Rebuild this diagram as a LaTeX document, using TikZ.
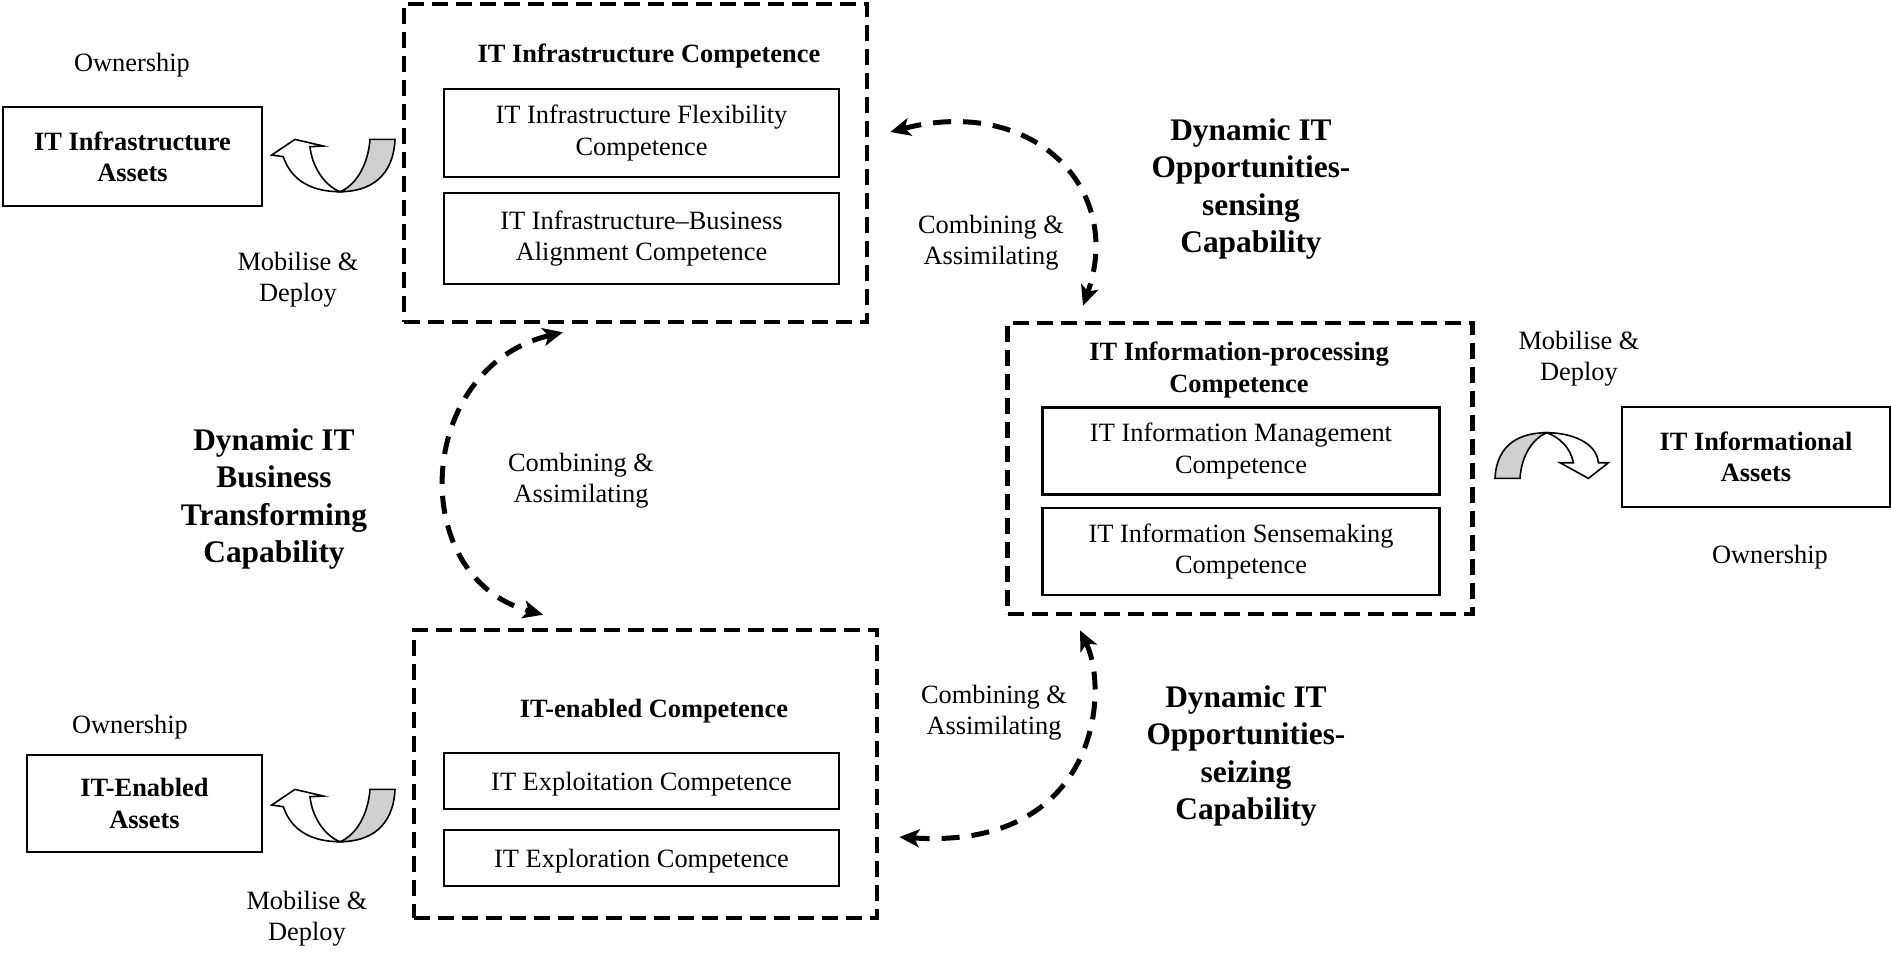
\documentclass[tikz,border=0pt]{standalone}
\usepackage{fontspec}
\setmainfont{Liberation Serif}
\usepackage{tikz}
\usetikzlibrary{arrows.meta}
\definecolor{ink}{HTML}{000000}
\definecolor{band}{HTML}{D0D0D0}
\newcommand\txtsize{\fontsize{13.2}{15.6}\selectfont}
\newcommand\bigsize{\fontsize{15.7}{18.7}\selectfont}
\tikzset{
  group/.style={draw=ink, line width=2.3pt, dash pattern=on 8pt off 4pt, inner sep=0pt},
  comp/.style={draw=ink, line width=1.3pt, align=center, inner sep=0pt, font=\txtsize,
    execute at begin node={\rule{0pt}{12pt}}},
  asset/.style={draw=ink, line width=1.4pt, align=center, inner sep=0pt, font=\txtsize\bfseries},
  ttl/.style={align=center, font=\txtsize\bfseries},
  lab/.style={align=center, font=\txtsize},
  capab/.style={align=center, font=\bigsize\bfseries},
  link/.style={draw=ink, line width=2.5pt, dash pattern=on 9pt off 6pt,
    {Stealth[length=10pt,width=9pt,inset=2.5pt]}-{Stealth[length=10pt,width=9pt,inset=2.5pt]}},
  % twisted u-turn arrow, head on the left
  uturn/.pic={
    \filldraw[fill=band, line width=0.8pt] (30,-52.3) -- (55,-52.3)
      .. controls (53.3,-15) and (30,0) .. (0,0)
      .. controls (16.7,-6.7) and (28.3,-28.3) .. (30,-52.3) -- cycle;
    \filldraw[fill=white, line width=0.8pt] (0,0)
      .. controls (-16.7,-6.7) and (-28.3,-26.7) .. (-30,-45)
      -- (-16.7,-45.7) -- (-45,-52.3) -- (-68.3,-36.7) -- (-56.7,-35)
      .. controls (-48.3,-10) and (-26.7,0) .. (0,0) -- cycle;
  },
  % same idea, arched over the top, head pointing down
  uturnR/.pic={
    \filldraw[fill=band, line width=0.8pt] (-51.7,45.7) -- (-26.7,45.7)
      .. controls (-25,20) and (-12,5) .. (0,0)
      .. controls (-25,0) and (-50,10) .. (-51.7,45.7) -- cycle;
    \filldraw[fill=white, line width=0.8pt] (0,0)
      .. controls (12,4) and (24,15) .. (26.7,30)
      -- (13.3,30) -- (41.7,45.7) -- (61.7,30) -- (51.7,30)
      .. controls (50,10) and (25,0) .. (0,0) -- cycle;
  },
}

\begin{document}
\begin{tikzpicture}[x=0.5pt,y=-0.5pt]
  \useasboundingbox (0,0) rectangle (1891,955);

  % competence groups
  \node[group, minimum width=231.5pt, minimum height=159pt] (infra) at (635.5,163) {};
  \node[group, minimum width=232.5pt, minimum height=145.5pt] (info) at (1240,468.5) {};
  \node[group, minimum width=231.5pt, minimum height=144pt] (enab) at (645.5,774) {};

  \node[ttl] (infraT) at (649,56) {IT Infrastructure Competence};
  \node[comp, minimum width=197.5pt, minimum height=44pt] (flex) at (641.5,133)
    {IT Infrastructure Flexibility\\Competence};
  \node[comp, minimum width=197.5pt, minimum height=45.5pt] (align) at (641.5,238.5)
    {IT Infrastructure--Business\\Alignment Competence};

  \node[ttl] (infoT) at (1239,370) {IT Information-processing\\Competence};
  \node[comp, minimum width=198.5pt, minimum height=43.5pt] (mgmt) at (1241,451)
    {IT Information Management\\Competence};
  \node[comp, minimum width=198.5pt, minimum height=43.5pt] (sense) at (1241,551.5)
    {IT Information Sensemaking\\Competence};

  \node[ttl] (enabT) at (654,711) {IT-enabled Competence};
  \node[comp, minimum width=197.5pt, minimum height=28pt] (exploit) at (641.5,781)
    {IT Exploitation Competence};
  \node[comp, minimum width=197.5pt, minimum height=28pt] (explore) at (641.5,858)
    {IT Exploration Competence};

  % assets
  \node[asset, minimum width=129.5pt, minimum height=49.5pt] (infraA) at (132.5,156.5)
    {IT Infrastructure\\Assets};
  \node[asset, minimum width=117.5pt, minimum height=48.5pt] (enabA) at (144.5,803.5)
    {IT-Enabled\\Assets};
  \node[asset, minimum width=134pt, minimum height=50pt] (infoA) at (1756,457)
    {IT Informational\\Assets};

  \node[lab] (own1) at (132,65) {Ownership};
  \node[lab] (own2) at (130,727) {Ownership};
  \node[lab] (own3) at (1770,557) {Ownership};
  \node[lab] (mob1) at (298,280) {Mobilise \&\\Deploy};
  \node[lab] (mob2) at (307,919) {Mobilise \&\\Deploy};
  \node[lab] (mob3) at (1579,359) {Mobilise \&\\Deploy};

  \pic at (340,191.7) {uturn};
  \pic at (340,841.7) {uturn};
  \pic at (1546.7,432.7) {uturnR};

  % capabilities
  \node[capab] (transf) at (274,499) {Dynamic IT\\Business\\Transforming\\Capability};
  \node[capab] (sensing) at (1251,189) {Dynamic IT\\Opportunities-\\sensing\\Capability};
  \node[capab] (seizing) at (1246,756) {Dynamic IT\\Opportunities-\\seizing\\Capability};

  \node[lab] (comb1) at (991,243) {Combining \&\\Assimilating};
  \node[lab] (comb2) at (581,481) {Combining \&\\Assimilating};
  \node[lab] (comb3) at (994,713) {Combining \&\\Assimilating};

  \draw[link] ([shift={(21,-31)}]infra.east) .. controls +(142,-37) and +(42,-118)
    .. ([shift={(-157,-15)}]info.north);
  \draw[link] ([shift={(-72.5,8)}]infra.south) .. controls +(-148,35) and +(-138,-37)
    .. ([shift={(-102.5,-13)}]enab.north);
  \draw[link] ([shift={(-160,14)}]info.south) .. controls +(30,62) and +(198,13)
    .. ([shift={(20,63)}]enab.east);
\end{tikzpicture}
\end{document}
